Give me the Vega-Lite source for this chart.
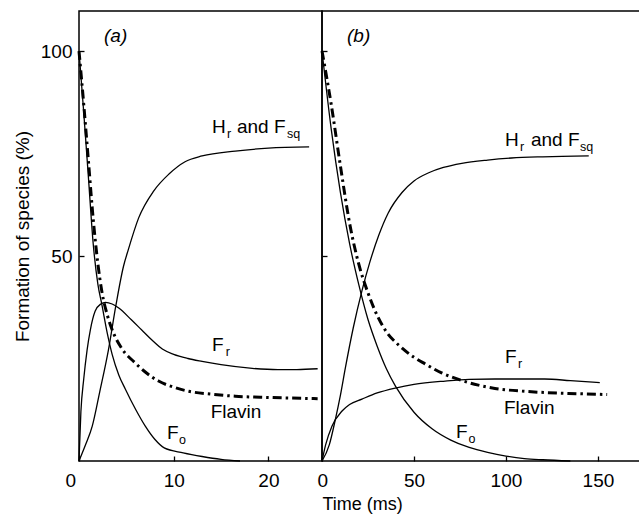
{
  "$schema": "https://vega.github.io/schema/vega-lite/v6.json",
  "padding": {"left": 12, "top": 10, "right": 0, "bottom": 0},
  "spacing": 0,
  "bounds": "flush",
  "config": {
    "font": "Liberation Sans",
    "view": {"stroke": "black", "strokeWidth": 1.5},
    "axis": {"labelFont": "Liberation Sans", "titleFont": "Liberation Sans", "labelFontSize": 19, "titleFontSize": 19, "labelColor": "black", "titleColor": "black", "titleFontWeight": "normal", "tickColor": "black", "tickWidth": 1.3, "grid": false, "domain": false}
  },
  "datasets": {
    "curves": [
      {"panel": "a", "series": "Fo", "t": 0, "v": 100},
      {"panel": "a", "series": "Fo", "t": 0.5, "v": 85},
      {"panel": "a", "series": "Fo", "t": 1, "v": 69},
      {"panel": "a", "series": "Fo", "t": 1.5, "v": 53},
      {"panel": "a", "series": "Fo", "t": 2, "v": 43},
      {"panel": "a", "series": "Fo", "t": 2.4, "v": 38.3},
      {"panel": "a", "series": "Fo", "t": 3, "v": 31},
      {"panel": "a", "series": "Fo", "t": 3.5, "v": 26},
      {"panel": "a", "series": "Fo", "t": 4.2, "v": 21},
      {"panel": "a", "series": "Fo", "t": 4.9, "v": 17.5},
      {"panel": "a", "series": "Fo", "t": 6, "v": 12.5},
      {"panel": "a", "series": "Fo", "t": 7, "v": 8.5},
      {"panel": "a", "series": "Fo", "t": 8, "v": 5.3},
      {"panel": "a", "series": "Fo", "t": 9, "v": 3.2},
      {"panel": "a", "series": "Fo", "t": 11, "v": 2},
      {"panel": "a", "series": "Fo", "t": 13, "v": 1.1},
      {"panel": "a", "series": "Fo", "t": 15, "v": 0.4},
      {"panel": "a", "series": "Fo", "t": 17, "v": 0},
      {"panel": "a", "series": "Flavin", "t": 0, "v": 100},
      {"panel": "a", "series": "Flavin", "t": 0.5, "v": 87},
      {"panel": "a", "series": "Flavin", "t": 1, "v": 73},
      {"panel": "a", "series": "Flavin", "t": 1.5, "v": 59},
      {"panel": "a", "series": "Flavin", "t": 2, "v": 48},
      {"panel": "a", "series": "Flavin", "t": 2.4, "v": 41.5},
      {"panel": "a", "series": "Flavin", "t": 3, "v": 35.5},
      {"panel": "a", "series": "Flavin", "t": 3.5, "v": 32},
      {"panel": "a", "series": "Flavin", "t": 4.5, "v": 27.5},
      {"panel": "a", "series": "Flavin", "t": 5.9, "v": 24},
      {"panel": "a", "series": "Flavin", "t": 7, "v": 21.7},
      {"panel": "a", "series": "Flavin", "t": 8.4, "v": 19.5},
      {"panel": "a", "series": "Flavin", "t": 10, "v": 18},
      {"panel": "a", "series": "Flavin", "t": 11.6, "v": 17},
      {"panel": "a", "series": "Flavin", "t": 14, "v": 16.3},
      {"panel": "a", "series": "Flavin", "t": 16.5, "v": 15.8},
      {"panel": "a", "series": "Flavin", "t": 20, "v": 15.5},
      {"panel": "a", "series": "Flavin", "t": 25.2, "v": 15.2},
      {"panel": "a", "series": "Fr", "t": 0, "v": 0},
      {"panel": "a", "series": "Fr", "t": 0.2, "v": 12},
      {"panel": "a", "series": "Fr", "t": 0.5, "v": 20},
      {"panel": "a", "series": "Fr", "t": 0.85, "v": 27},
      {"panel": "a", "series": "Fr", "t": 1.2, "v": 32},
      {"panel": "a", "series": "Fr", "t": 1.7, "v": 36.5},
      {"panel": "a", "series": "Fr", "t": 2.3, "v": 38.3},
      {"panel": "a", "series": "Fr", "t": 2.8, "v": 38.7},
      {"panel": "a", "series": "Fr", "t": 3.5, "v": 38.3},
      {"panel": "a", "series": "Fr", "t": 4.2, "v": 37.3},
      {"panel": "a", "series": "Fr", "t": 5.5, "v": 34.5},
      {"panel": "a", "series": "Fr", "t": 6.6, "v": 32},
      {"panel": "a", "series": "Fr", "t": 7.7, "v": 29.5},
      {"panel": "a", "series": "Fr", "t": 8.8, "v": 27.3},
      {"panel": "a", "series": "Fr", "t": 10, "v": 26},
      {"panel": "a", "series": "Fr", "t": 11.5, "v": 25},
      {"panel": "a", "series": "Fr", "t": 13, "v": 24.3},
      {"panel": "a", "series": "Fr", "t": 15, "v": 23.5},
      {"panel": "a", "series": "Fr", "t": 18.3, "v": 22.6},
      {"panel": "a", "series": "Fr", "t": 21, "v": 22.3},
      {"panel": "a", "series": "Fr", "t": 23, "v": 22.3},
      {"panel": "a", "series": "Fr", "t": 25.2, "v": 22.5},
      {"panel": "a", "series": "Hr", "t": 0, "v": 0},
      {"panel": "a", "series": "Hr", "t": 0.7, "v": 4},
      {"panel": "a", "series": "Hr", "t": 1.4, "v": 8.5},
      {"panel": "a", "series": "Hr", "t": 2.2, "v": 17},
      {"panel": "a", "series": "Hr", "t": 3.1, "v": 27},
      {"panel": "a", "series": "Hr", "t": 3.9, "v": 38},
      {"panel": "a", "series": "Hr", "t": 4.7, "v": 47.5},
      {"panel": "a", "series": "Hr", "t": 5.2, "v": 51.5},
      {"panel": "a", "series": "Hr", "t": 6.3, "v": 59.3},
      {"panel": "a", "series": "Hr", "t": 7.9, "v": 65.9},
      {"panel": "a", "series": "Hr", "t": 9.5, "v": 70},
      {"panel": "a", "series": "Hr", "t": 11.2, "v": 73},
      {"panel": "a", "series": "Hr", "t": 13, "v": 74.4},
      {"panel": "a", "series": "Hr", "t": 16.5, "v": 75.6},
      {"panel": "a", "series": "Hr", "t": 20, "v": 76.3},
      {"panel": "a", "series": "Hr", "t": 24.3, "v": 76.6},
      {"panel": "b", "series": "Fo", "t": 0, "v": 100},
      {"panel": "b", "series": "Fo", "t": 5, "v": 81},
      {"panel": "b", "series": "Fo", "t": 10, "v": 65.5},
      {"panel": "b", "series": "Fo", "t": 15, "v": 53},
      {"panel": "b", "series": "Fo", "t": 20, "v": 43},
      {"panel": "b", "series": "Fo", "t": 25, "v": 34.5},
      {"panel": "b", "series": "Fo", "t": 30, "v": 28},
      {"panel": "b", "series": "Fo", "t": 35, "v": 22.5},
      {"panel": "b", "series": "Fo", "t": 40, "v": 18.2},
      {"panel": "b", "series": "Fo", "t": 50, "v": 11.9},
      {"panel": "b", "series": "Fo", "t": 60, "v": 7.8},
      {"panel": "b", "series": "Fo", "t": 70, "v": 5.1},
      {"panel": "b", "series": "Fo", "t": 80, "v": 3.3},
      {"panel": "b", "series": "Fo", "t": 90, "v": 2.1},
      {"panel": "b", "series": "Fo", "t": 100, "v": 1.2},
      {"panel": "b", "series": "Fo", "t": 110, "v": 0.6},
      {"panel": "b", "series": "Fo", "t": 120, "v": 0.3},
      {"panel": "b", "series": "Fo", "t": 135, "v": 0},
      {"panel": "b", "series": "Flavin", "t": 0, "v": 100},
      {"panel": "b", "series": "Flavin", "t": 5, "v": 87},
      {"panel": "b", "series": "Flavin", "t": 10, "v": 72},
      {"panel": "b", "series": "Flavin", "t": 15, "v": 58},
      {"panel": "b", "series": "Flavin", "t": 20, "v": 48},
      {"panel": "b", "series": "Flavin", "t": 25, "v": 41},
      {"panel": "b", "series": "Flavin", "t": 30, "v": 35.5},
      {"panel": "b", "series": "Flavin", "t": 35, "v": 31.5},
      {"panel": "b", "series": "Flavin", "t": 41.6, "v": 28.3},
      {"panel": "b", "series": "Flavin", "t": 50, "v": 25.3},
      {"panel": "b", "series": "Flavin", "t": 56, "v": 23.7},
      {"panel": "b", "series": "Flavin", "t": 65, "v": 21.5},
      {"panel": "b", "series": "Flavin", "t": 72.3, "v": 20.2},
      {"panel": "b", "series": "Flavin", "t": 85, "v": 18.5},
      {"panel": "b", "series": "Flavin", "t": 94, "v": 17.7},
      {"panel": "b", "series": "Flavin", "t": 110, "v": 17},
      {"panel": "b", "series": "Flavin", "t": 121, "v": 16.7},
      {"panel": "b", "series": "Flavin", "t": 140, "v": 16.4},
      {"panel": "b", "series": "Flavin", "t": 155, "v": 16.2},
      {"panel": "b", "series": "Fr", "t": 0, "v": 0},
      {"panel": "b", "series": "Fr", "t": 2, "v": 4},
      {"panel": "b", "series": "Fr", "t": 5.4, "v": 8.5},
      {"panel": "b", "series": "Fr", "t": 10.9, "v": 12.2},
      {"panel": "b", "series": "Fr", "t": 15, "v": 13.8},
      {"panel": "b", "series": "Fr", "t": 21.7, "v": 15.1},
      {"panel": "b", "series": "Fr", "t": 30, "v": 16.6},
      {"panel": "b", "series": "Fr", "t": 39.9, "v": 17.8},
      {"panel": "b", "series": "Fr", "t": 50, "v": 18.7},
      {"panel": "b", "series": "Fr", "t": 67, "v": 19.5},
      {"panel": "b", "series": "Fr", "t": 80, "v": 19.9},
      {"panel": "b", "series": "Fr", "t": 94, "v": 20},
      {"panel": "b", "series": "Fr", "t": 121, "v": 20},
      {"panel": "b", "series": "Fr", "t": 135, "v": 19.6},
      {"panel": "b", "series": "Fr", "t": 151, "v": 19.1},
      {"panel": "b", "series": "Hr", "t": 0, "v": 0},
      {"panel": "b", "series": "Hr", "t": 4, "v": 4},
      {"panel": "b", "series": "Hr", "t": 7.1, "v": 9.8},
      {"panel": "b", "series": "Hr", "t": 10, "v": 16},
      {"panel": "b", "series": "Hr", "t": 12.7, "v": 22.7},
      {"panel": "b", "series": "Hr", "t": 17, "v": 32.5},
      {"panel": "b", "series": "Hr", "t": 21.7, "v": 41.5},
      {"panel": "b", "series": "Hr", "t": 26, "v": 48.5},
      {"panel": "b", "series": "Hr", "t": 30.8, "v": 55},
      {"panel": "b", "series": "Hr", "t": 36, "v": 60.5},
      {"panel": "b", "series": "Hr", "t": 43.5, "v": 65.5},
      {"panel": "b", "series": "Hr", "t": 50, "v": 68.3},
      {"panel": "b", "series": "Hr", "t": 58, "v": 70.3},
      {"panel": "b", "series": "Hr", "t": 66, "v": 71.6},
      {"panel": "b", "series": "Hr", "t": 76, "v": 72.6},
      {"panel": "b", "series": "Hr", "t": 90, "v": 73.4},
      {"panel": "b", "series": "Hr", "t": 103, "v": 73.9},
      {"panel": "b", "series": "Hr", "t": 120, "v": 74.2},
      {"panel": "b", "series": "Hr", "t": 145, "v": 74.4}
    ],
    "labels": [
      {"panel": "a", "kind": "tag", "text": "(a)", "t": 2.64, "v": 102.2},
      {"panel": "a", "kind": "main", "text": "H", "t": 14.04, "v": 80},
      {"panel": "a", "kind": "sub", "text": "r", "t": 15.63, "v": 78.8},
      {"panel": "a", "kind": "main", "text": "and F", "t": 16.68, "v": 80},
      {"panel": "a", "kind": "sub", "text": "sq", "t": 21.96, "v": 78.8},
      {"panel": "a", "kind": "main", "text": "F", "t": 14.04, "v": 26.8},
      {"panel": "a", "kind": "sub", "text": "r", "t": 15.5, "v": 25.6},
      {"panel": "a", "kind": "main", "text": "Flavin", "t": 13.9, "v": 10.5},
      {"panel": "a", "kind": "main", "text": "F", "t": 9.3, "v": 5.4},
      {"panel": "a", "kind": "sub", "text": "o", "t": 10.55, "v": 4.1},
      {"panel": "b", "kind": "tag", "text": "(b)", "t": 13.6, "v": 102.2},
      {"panel": "b", "kind": "main", "text": "H", "t": 99.5, "v": 76.8},
      {"panel": "b", "kind": "sub", "text": "r", "t": 107.6, "v": 75.6},
      {"panel": "b", "kind": "main", "text": "and F", "t": 113.6, "v": 76.8},
      {"panel": "b", "kind": "sub", "text": "sq", "t": 140.2, "v": 75.6},
      {"panel": "b", "kind": "main", "text": "F", "t": 99.5, "v": 23.9},
      {"panel": "b", "kind": "sub", "text": "r", "t": 106.5, "v": 22.7},
      {"panel": "b", "kind": "main", "text": "Flavin", "t": 98.9, "v": 11.5},
      {"panel": "b", "kind": "main", "text": "F", "t": 72.8, "v": 5.6},
      {"panel": "b", "kind": "sub", "text": "o", "t": 79.6, "v": 4.4}
    ]
  },
  "hconcat": [
    {
      "width": 243,
      "height": 450,
      "encoding": {
        "x": {"field": "t", "type": "quantitative", "scale": {"domain": [0, 25.66], "nice": false, "zero": false},
              "axis": {"values": [0, 10, 20], "title": null, "tickSize": -5, "labelPadding": 15,
                       "labelOffset": {"condition": {"test": "datum.value === 0", "value": -14}, "value": 0}}},
        "y": {"field": "v", "type": "quantitative", "scale": {"domain": [0, 109.76], "nice": false},
              "axis": {"values": [50, 100], "title": "Formation of species (%)", "tickSize": -5, "labelPadding": 12, "titlePadding": 8}}
      },
      "layer": [
        {"data": {"name": "curves"}, "transform": [{"filter": "datum.panel === 'a' && datum.series !== 'Flavin'"}],
         "mark": {"type": "line", "color": "black", "strokeWidth": 1.3, "interpolate": "monotone"},
         "encoding": {"detail": {"field": "series"}}},
        {"data": {"name": "curves"}, "transform": [{"filter": "datum.panel === 'a' && datum.series === 'Flavin'"}],
         "mark": {"type": "line", "color": "black", "strokeWidth": 3, "strokeDash": [9, 4, 2.5, 4], "interpolate": "monotone"},
         "encoding": {}},
        {"data": {"name": "labels"}, "transform": [{"filter": "datum.panel === 'a' && datum.kind === 'main'"}],
         "mark": {"type": "text", "align": "left", "baseline": "alphabetic", "fontSize": 19, "color": "black"},
         "encoding": {"text": {"field": "text"}}},
        {"data": {"name": "labels"}, "transform": [{"filter": "datum.panel === 'a' && datum.kind === 'sub'"}],
         "mark": {"type": "text", "align": "left", "baseline": "alphabetic", "fontSize": 12.5, "color": "black"},
         "encoding": {"text": {"field": "text"}}},
        {"data": {"name": "labels"}, "transform": [{"filter": "datum.panel === 'a' && datum.kind === 'tag'"}],
         "mark": {"type": "text", "align": "left", "baseline": "alphabetic", "fontSize": 19, "fontStyle": "italic", "color": "black"},
         "encoding": {"text": {"field": "text"}}}
      ]
    },
    {
      "width": 319,
      "height": 450,
      "encoding": {
        "x": {"field": "t", "type": "quantitative", "scale": {"domain": [0, 173.4], "nice": false, "zero": false},
              "axis": {"values": [0, 50, 100, 150], "title": "Time (ms)", "titleFontSize": 18, "titleAnchor": "start", "titleAlign": "left", "titlePadding": 5, "tickSize": -5, "labelPadding": 15,
                       "labelOffset": {"condition": {"test": "datum.value === 0", "value": -5}, "value": 0}}},
        "y": {"field": "v", "type": "quantitative", "scale": {"domain": [0, 109.76], "nice": false},
              "axis": {"values": [50, 100], "title": null, "labels": false, "tickSize": -5}}
      },
      "layer": [
        {"data": {"name": "curves"}, "transform": [{"filter": "datum.panel === 'b' && datum.series !== 'Flavin'"}],
         "mark": {"type": "line", "color": "black", "strokeWidth": 1.3, "interpolate": "monotone"},
         "encoding": {"detail": {"field": "series"}}},
        {"data": {"name": "curves"}, "transform": [{"filter": "datum.panel === 'b' && datum.series === 'Flavin'"}],
         "mark": {"type": "line", "color": "black", "strokeWidth": 3, "strokeDash": [9, 4, 2.5, 4], "interpolate": "monotone"},
         "encoding": {}},
        {"data": {"name": "labels"}, "transform": [{"filter": "datum.panel === 'b' && datum.kind === 'main'"}],
         "mark": {"type": "text", "align": "left", "baseline": "alphabetic", "fontSize": 19, "color": "black"},
         "encoding": {"text": {"field": "text"}}},
        {"data": {"name": "labels"}, "transform": [{"filter": "datum.panel === 'b' && datum.kind === 'sub'"}],
         "mark": {"type": "text", "align": "left", "baseline": "alphabetic", "fontSize": 12.5, "color": "black"},
         "encoding": {"text": {"field": "text"}}},
        {"data": {"name": "labels"}, "transform": [{"filter": "datum.panel === 'b' && datum.kind === 'tag'"}],
         "mark": {"type": "text", "align": "left", "baseline": "alphabetic", "fontSize": 19, "fontStyle": "italic", "color": "black"},
         "encoding": {"text": {"field": "text"}}}
      ]
    }
  ]
}
